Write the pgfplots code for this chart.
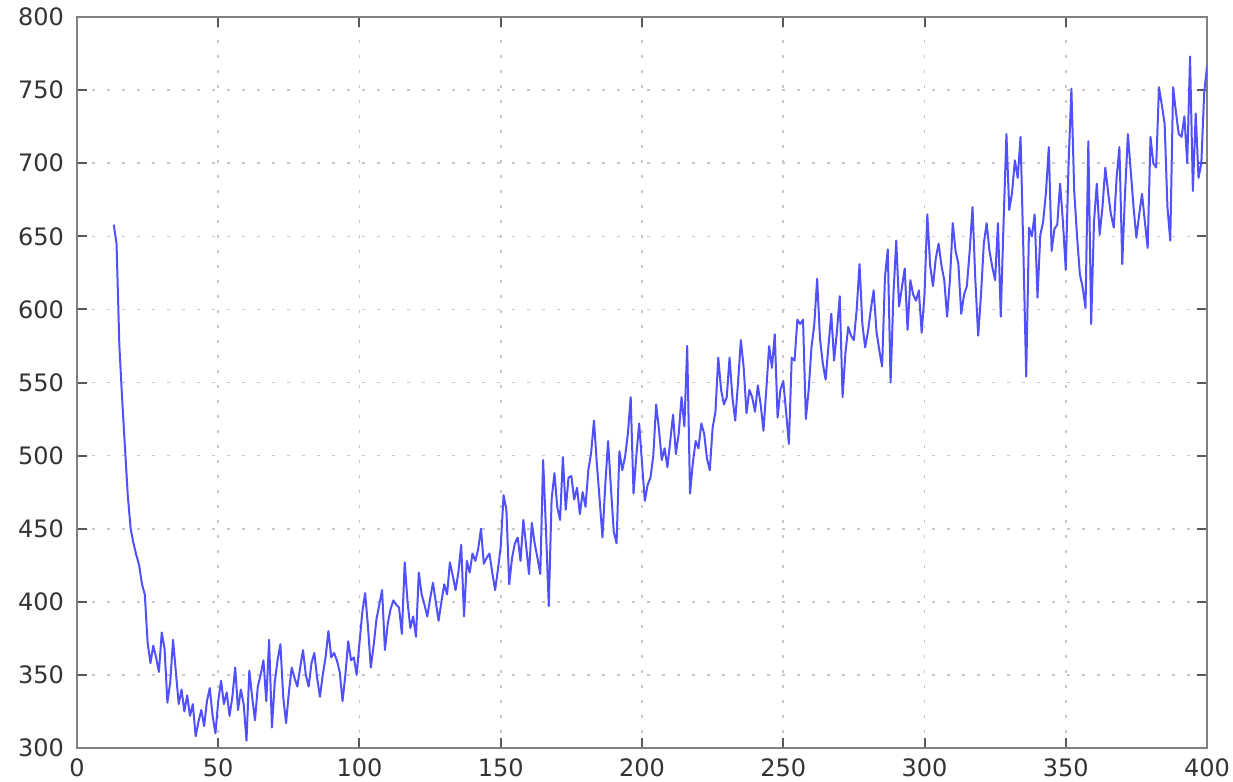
\documentclass[border=0pt]{standalone}
\usepackage{fontspec}
\setmainfont{DejaVu Sans}
\usepackage{pgfplots}
\pgfplotsset{compat=1.18}
\definecolor{lineblue}{RGB}{80,80,255}
\definecolor{axgray}{RGB}{128,128,128}
\definecolor{gridgray}{RGB}{200,200,200}
\begin{document}
\begin{tikzpicture}
\path[use as bounding box] (-38.5pt,-17pt) rectangle (578pt,374pt);
\begin{axis}[
  at={(0,0)}, anchor=south west,
  width=565pt, height=365.5pt, scale only axis,
  xmin=0, xmax=400, ymin=300, ymax=800,
  xtick={0,50,...,400}, ytick={300,350,...,800},
  /pgf/number format/assume math mode=true,
  ticklabel style={font=\fontsize{12}{14}\selectfont, text=black!80},
  yticklabel style={xshift=-3pt},
  xticklabel style={yshift=-2pt},
  axis line style={axgray, line width=1pt},
  tick style={black!65, line width=1pt},
  major tick length=5pt,
  tick align=inside,
  grid=major,
  major grid style={gridgray, line width=0.8pt, dash pattern=on 1.5pt off 6pt},
]
\addplot[lineblue, line width=1pt, line join=round] table {
x y
13 658
14 645
15 575
16 538
17 505
18 472
19 450
20 440
21 432
22 425
23 412
24 405
25 372
26 358
27 370
28 362
29 352
30 379
31 368
32 331
33 345
34 374
35 352
36 330
37 340
38 325
39 336
40 322
41 330
42 308
43 318
44 326
45 315
46 332
47 341
48 322
49 310
50 332
51 346
52 330
53 338
54 322
55 335
56 355
57 326
58 340
59 330
60 305
61 353
62 335
63 319
64 342
65 350
66 360
67 332
68 374
69 314
70 345
71 360
72 371
73 335
74 317
75 338
76 355
77 348
78 342
79 355
80 367
81 350
82 342
83 358
84 365
85 348
86 335
87 350
88 362
89 380
90 362
91 365
92 360
93 352
94 332
95 350
96 373
97 360
98 362
99 350
100 372
101 393
102 406
103 383
104 355
105 370
106 388
107 398
108 408
109 367
110 385
111 395
112 401
113 398
114 396
115 378
116 427
117 400
118 382
119 390
120 376
121 420
122 405
123 398
124 390
125 402
126 413
127 400
128 387
129 400
130 412
131 405
132 427
133 418
134 408
135 420
136 439
137 390
138 428
139 420
140 433
141 428
142 436
143 450
144 426
145 430
146 433
147 420
148 408
149 422
150 438
151 473
152 463
153 412
154 430
155 440
156 444
157 428
158 456
159 438
160 419
161 454
162 440
163 430
164 419
165 497
166 450
167 397
168 470
169 488
170 465
171 456
172 499
173 463
174 485
175 486
176 470
177 478
178 460
179 475
180 465
181 490
182 502
183 524
184 495
185 470
186 444
187 480
188 510
189 478
190 448
191 440
192 503
193 490
194 499
195 515
196 540
197 474
198 500
199 522
200 495
201 469
202 480
203 485
204 500
205 535
206 518
207 497
208 505
209 492
210 510
211 528
212 501
213 515
214 540
215 520
216 575
217 474
218 495
219 510
220 505
221 522
222 515
223 498
224 490
225 519
226 530
227 567
228 545
229 535
230 540
231 567
232 540
233 524
234 550
235 579
236 560
237 529
238 545
239 540
240 530
241 548
242 535
243 517
244 545
245 575
246 560
247 583
248 526
249 545
250 551
251 530
252 508
253 567
254 565
255 593
256 590
257 593
258 525
259 545
260 574
261 590
262 621
263 580
264 563
265 552
266 575
267 597
268 565
269 585
270 609
271 540
272 570
273 588
274 582
275 579
276 600
277 631
278 590
279 574
280 585
281 600
282 613
283 585
284 572
285 561
286 622
287 641
288 550
289 610
290 647
291 602
292 615
293 628
294 586
295 620
296 610
297 606
298 613
299 584
300 610
301 665
302 630
303 616
304 635
305 645
306 630
307 620
308 595
309 620
310 659
311 640
312 631
313 597
314 610
315 616
316 640
317 670
318 620
319 582
320 610
321 645
322 659
323 640
324 629
325 620
326 659
327 595
328 660
329 720
330 668
331 680
332 702
333 690
334 718
335 640
336 554
337 656
338 650
339 665
340 608
341 651
342 660
343 680
344 711
345 640
346 655
347 658
348 686
349 660
350 627
351 700
352 751
353 681
354 650
355 624
356 615
357 601
358 715
359 590
360 660
361 686
362 651
363 670
364 697
365 680
366 665
367 656
368 690
369 711
370 631
371 680
372 720
373 695
374 670
375 649
376 665
377 679
378 660
379 642
380 718
381 700
382 697
383 752
384 740
385 727
386 670
387 647
388 752
389 735
390 720
391 718
392 732
393 700
394 773
395 681
396 734
397 690
398 700
399 748
400 766
};
\end{axis}
\end{tikzpicture}
\end{document}
